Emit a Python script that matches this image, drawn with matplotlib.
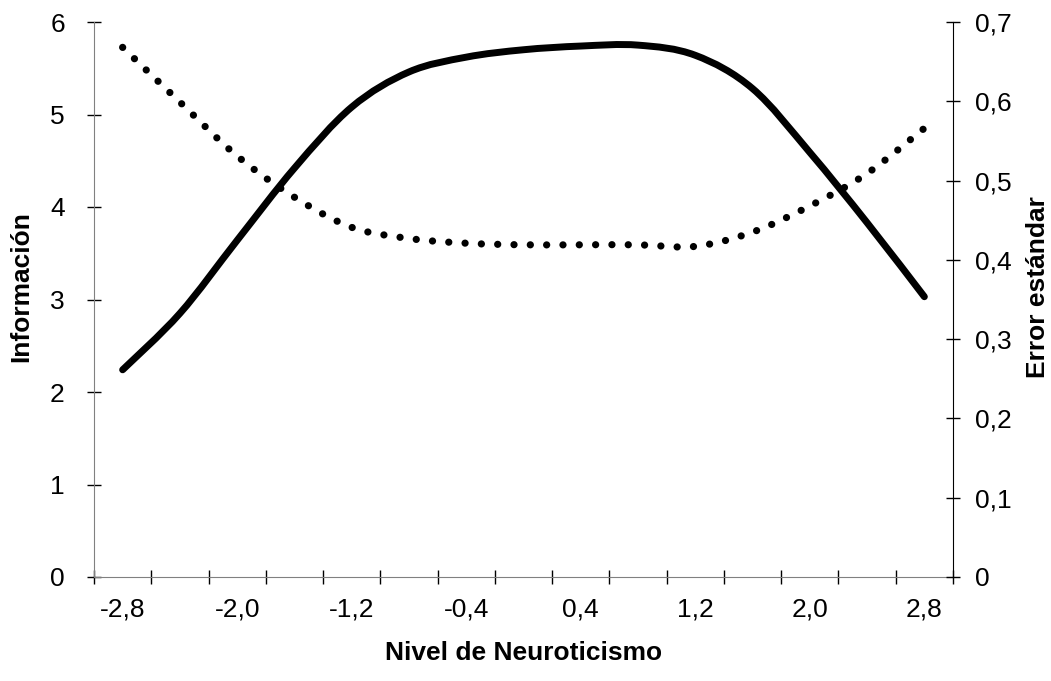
import matplotlib
matplotlib.use("Agg")
import matplotlib.pyplot as plt
from matplotlib.path import Path
from matplotlib.patches import PathPatch
from matplotlib.ticker import FuncFormatter, FixedLocator
import numpy as np

plt.rcParams['font.family'] = ['Liberation Sans', 'DejaVu Sans']

# Data
theta = [-2.8, -2.4, -2.0, -1.6, -1.2, -0.8, -0.4, 0.0, 0.4, 0.8, 1.2, 1.6, 2.0, 2.4, 2.8]
informacion = [2.24, 2.85, 3.64, 4.42, 5.08, 5.46, 5.62, 5.70, 5.74, 5.75, 5.64, 5.28, 4.59, 3.83, 3.03]
error_est = [0.668, 0.599, 0.531, 0.479, 0.441, 0.427, 0.421, 0.419, 0.419, 0.419, 0.417, 0.435, 0.468, 0.509, 0.566]
x_labels = ['-2,8', '-2,0', '-1,2', '-0,4', '0,4', '1,2', '2,0', '2,8']

def smooth_path(xs, ys):
    # Bezier (Catmull-Rom style) smoothing rendered by matplotlib's Path
    xs = np.asarray(xs, float); ys = np.asarray(ys, float)
    n = len(xs)
    verts = [(xs[0], ys[0])]
    codes = [Path.MOVETO]
    for i in range(n - 1):
        p0 = (xs[max(i - 1, 0)], ys[max(i - 1, 0)])
        p1 = (xs[i], ys[i])
        p2 = (xs[i + 1], ys[i + 1])
        p3 = (xs[min(i + 2, n - 1)], ys[min(i + 2, n - 1)])
        c1 = (p1[0] + (p2[0] - p0[0]) / 6, p1[1] + (p2[1] - p0[1]) / 6)
        c2 = (p2[0] - (p3[0] - p1[0]) / 6, p2[1] - (p3[1] - p1[1]) / 6)
        verts += [c1, c2, p2]
        codes += [Path.CURVE4] * 3
    return Path(verts, codes)

FS = 19

fig = plt.figure(figsize=(10.51, 6.81), dpi=100)
ax = fig.add_axes([94 / 1051, 1 - 577 / 681, (953 - 94) / 1051, (577 - 22) / 681])
ax2 = ax.twinx()

xpos = np.arange(len(theta))
ax.set_xlim(-0.5, len(theta) - 0.5)
ax.set_ylim(0, 6)
ax2.set_ylim(0, 0.7)

p1 = PathPatch(smooth_path(xpos, informacion), facecolor='none', edgecolor='black',
               linewidth=5.0, capstyle='round', joinstyle='round')
ax.add_patch(p1)
p2 = PathPatch(smooth_path(xpos, error_est), facecolor='none', edgecolor='black',
               linewidth=5.2, linestyle=(0, (0.01, 2.25)), capstyle='round')
ax2.add_patch(p2)

# x ticks: marks between categories, labels at every other category
ax.xaxis.set_major_locator(FixedLocator(xpos[::2]))
ax.set_xticklabels(x_labels)
ax.xaxis.set_minor_locator(FixedLocator(np.arange(-0.5, len(theta), 1.0)))
ax.tick_params(axis='x', which='major', length=0, pad=15, labelsize=FS)
ax.tick_params(axis='x', which='minor', direction='inout', length=10, width=1, color='black')

ax.set_yticks(range(0, 7))
ax.tick_params(axis='y', direction='inout', length=10, width=1, labelsize=FS, pad=16)
ax2.set_yticks(np.arange(0, 0.71, 0.1))
ax2.yaxis.set_major_formatter(FuncFormatter(lambda v, p: '0' if abs(v) < 1e-9 else f'{v:.1f}'.replace('.', ',')))
ax2.tick_params(axis='y', direction='inout', length=10, width=1, labelsize=FS, pad=11)

for a in (ax, ax2):
    a.spines['top'].set_visible(False)
ax.spines['left'].set_color('#808080')
ax.spines['bottom'].set_color('#808080')
ax2.spines['left'].set_visible(False)
ax2.spines['bottom'].set_visible(False)
ax2.spines['right'].set_color('black')
ax.spines['right'].set_visible(False)

ax.set_xlabel('Nivel de Neuroticismo', fontsize=FS, fontweight='bold', labelpad=14)
ax.set_ylabel('Información', fontsize=FS, fontweight='bold')
ax2.set_ylabel('Error estándar', fontsize=FS, fontweight='bold')
ax.yaxis.set_label_coords((33 - 94) / 859, (577 - 287) / 555)
ax2.yaxis.set_label_coords((1026 - 94) / 859, (577 - 287) / 555)

fig.savefig('out.png', dpi=100, facecolor='white')
